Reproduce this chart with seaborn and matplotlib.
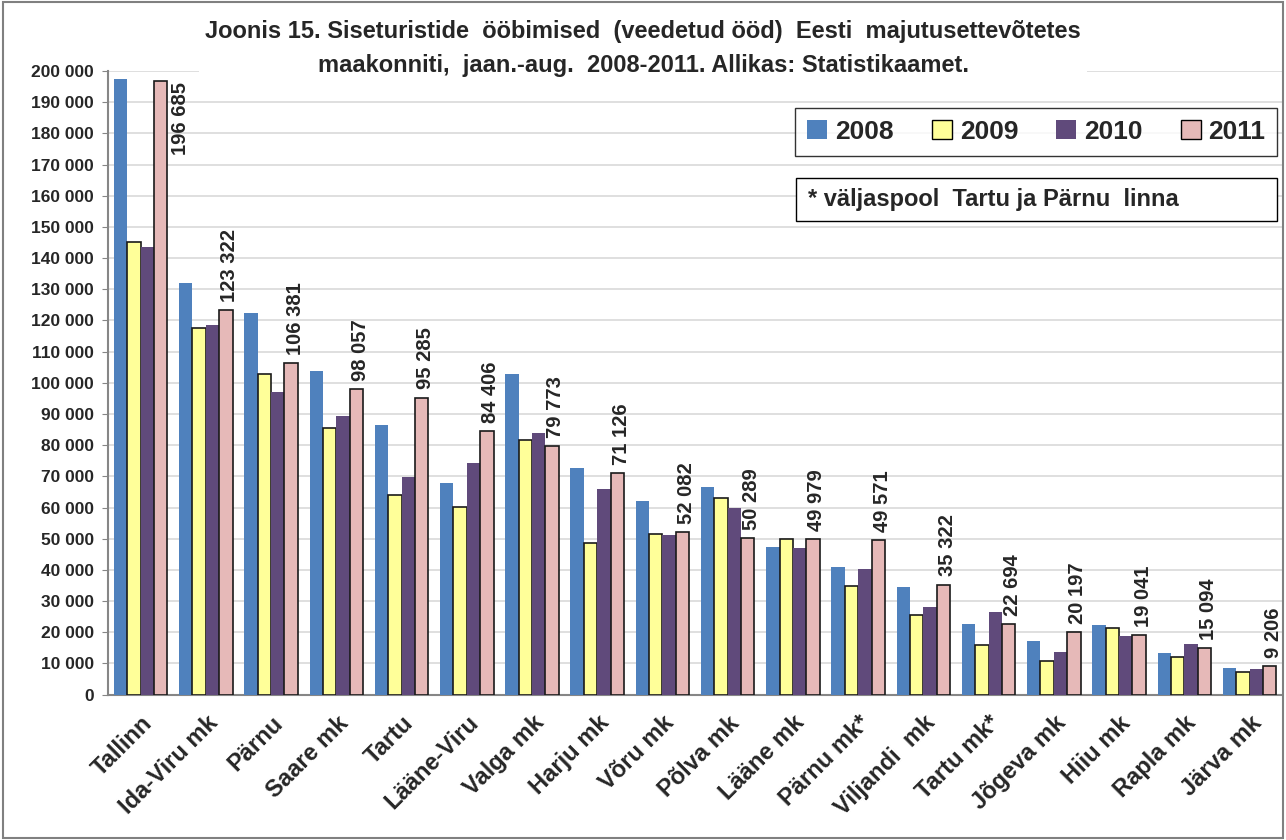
import numpy as np
import pandas as pd
import matplotlib
matplotlib.use("Agg")
import matplotlib.pyplot as plt
import seaborn as sns

# data
counties = ['Tallinn', 'Ida-Viru mk', 'Pärnu', 'Saare mk', 'Tartu', 'Lääne-Viru',
            'Valga mk', 'Harju mk', 'Võru mk', 'Põlva mk', 'Lääne mk', 'Pärnu mk*',
            'Viljandi  mk', 'Tartu mk*', 'Jõgeva mk', 'Hiiu mk', 'Rapla mk', 'Järva mk']
years = ['2008', '2009', '2010', '2011']
v2008 = [197400, 132000, 122400, 103800, 86500, 68000, 102900, 72800, 62200, 66700,
         47400, 41000, 34600, 22800, 17300, 22400, 13500, 8700]
v2009 = [145000, 117500, 102900, 85600, 64100, 60300, 81700, 48500, 51600, 63100,
         50000, 34700, 25700, 15800, 10900, 21400, 12100, 7400]
v2010 = [143500, 118500, 97100, 89400, 69700, 74400, 84000, 65800, 51300, 60000,
         46900, 40300, 28000, 26500, 13800, 18700, 16200, 8200]
v2011 = [196685, 123322, 106381, 98057, 95285, 84406, 79773, 71126, 52082, 50289,
         49979, 49571, 35322, 22694, 20197, 19041, 15094, 9206]

colors = ['#4F81BD', '#FFFF99', '#604A7B', '#E6B9B8']

df = pd.DataFrame({
    'county': counties * 4,
    'year': sum([[y] * len(counties) for y in years], []),
    'value': v2008 + v2009 + v2010 + v2011,
})

sns.set_style('white')
plt.rcParams['font.family'] = ['Liberation Sans', 'DejaVu Sans']
plt.rcParams['font.weight'] = 'bold'

fig = plt.figure(figsize=(12.86, 8.4), dpi=100)
ax = fig.add_axes([0.084, 0.173, 0.913, 0.7425])

sns.barplot(data=df, x='county', y='value', hue='year', palette=colors,
            width=0.82, saturation=1, ax=ax, zorder=3)

# edges: yellow and pink bars have dark outline
for i, cont in enumerate(ax.containers):
    for bar in cont:
        if i in (1, 3):
            bar.set_edgecolor('#1a1a1a')
            bar.set_linewidth(1.2)
        else:
            bar.set_edgecolor('none')

# labels for 2011
for k, (bar, v) in enumerate(zip(ax.containers[3], v2011)):
    lab = f'{v:,}'.replace(',', ' ')
    xc = bar.get_x() + bar.get_width() / 2
    if k == 0:
        # no room above Tallinn, label goes beside the bar
        ax.text(bar.get_x() + bar.get_width() + 0.06, bar.get_height() - 300, lab,
                rotation=90, ha='left', va='top', fontsize=14.5, fontweight='bold', zorder=5)
    else:
        ax.text(xc + 0.06, bar.get_height() + 2600, lab,
                rotation=90, ha='center', va='bottom', fontsize=14.5, fontweight='bold', zorder=5)

ax.set_ylim(0, 200000)
ax.set_xlim(-0.5, len(counties) - 0.5)
ax.set_yticks(np.arange(0, 200001, 10000))
ax.set_yticklabels([f'{t:,}'.replace(',', ' ') for t in range(0, 200001, 10000)],
                   fontsize=12.5, fontweight='bold')
ax.yaxis.grid(True, color='#d9d9d9', linewidth=1.2, zorder=0)
ax.set_axisbelow(True)

ax.set_xticks(range(len(counties)))
ax.set_xticklabels(counties, rotation=45, ha='right', rotation_mode='anchor',
                   fontsize=17, fontweight='bold')
ax.set_xticks(np.arange(-0.5, len(counties), 1), minor=True)
ax.tick_params(axis='x', which='major', length=0, pad=12)
ax.tick_params(axis='x', which='minor', length=6, color='#868686', width=1.5)
ax.tick_params(axis='y', length=4, color='#868686', left=True, pad=6)
ax.set_xlabel('')
ax.set_ylabel('')

for s in ['top', 'right']:
    ax.spines[s].set_visible(False)
for s in ['left', 'bottom']:
    ax.spines[s].set_color('#868686')
    ax.spines[s].set_linewidth(1.5)

# legend
leg = ax.legend(loc='upper right', bbox_to_anchor=(0.996, 0.941), ncol=4, frameon=True,
                fancybox=False, edgecolor='black', handlelength=0.75,
                handleheight=0.75, handletextpad=0.3, columnspacing=1.45,
                borderpad=0.45, borderaxespad=0, prop={'weight': 'bold', 'size': 19})
leg.get_frame().set_linewidth(1.0)
for h, c in zip(leg.legend_handles, colors):
    h.set_edgecolor('black' if c in ('#FFFF99', '#E6B9B8') else 'none')

# note box
ax.add_patch(plt.Rectangle((0.586, 0.760), 0.41, 0.0685, transform=ax.transAxes,
                           fc='white', ec='black', lw=1.0, zorder=6))
ax.text(0.596, 0.794, '* väljaspool  Tartu ja Pärnu  linna', transform=ax.transAxes,
        fontsize=17, fontweight='bold', va='center', ha='left', zorder=7)

# title with white background
fig.text(0.5, 0.942, 'Joonis 15. Siseturistide  ööbimised  (veedetud ööd)  Eesti  majutusettevõtetes\n'
         'maakonniti,  jaan.-aug.  2008-2011. Allikas: Statistikaamet.',
         ha='center', va='center', fontsize=17, fontweight='bold', linespacing=1.6,
         bbox=dict(boxstyle='square,pad=0.25', fc='white', ec='none'), zorder=10)

# outer border
fig.patches.append(plt.Rectangle((0.002, 0.002), 0.996, 0.996, transform=fig.transFigure,
                                 fill=False, ec='#808080', lw=1.5))

fig.savefig('out.png', dpi=100)
